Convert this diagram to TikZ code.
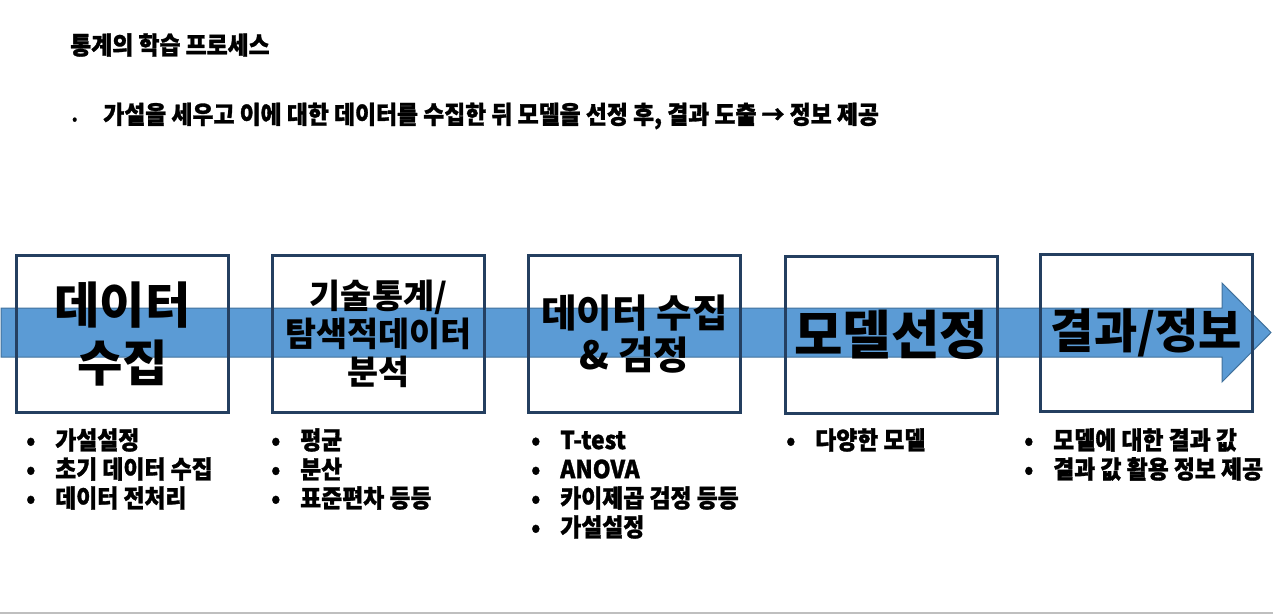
\documentclass[tikz,border=0pt]{standalone}
\usepackage{fontspec}
\setmainfont{Noto Sans CJK KR}
\newfontfamily\krc{Noto Sans CJK KR}[FakeStretch=0.92,BoldFeatures={FakeBold=1.2}]
\usepackage{tikz}
\usetikzlibrary{positioning}
\definecolor{boxline}{HTML}{243F60}
\definecolor{arrowfill}{HTML}{5B9BD5}
\definecolor{arrowline}{HTML}{41719C}
\newcommand{\bul}{\makebox[21.75pt][l]{•}}
\tikzset{
  stage/.style={draw=boxline,line width=2.25pt,minimum width=159pt,minimum height=118pt,inner sep=0pt,align=center},
  item/.style={anchor=west,inner sep=0pt,font=\krc\bfseries\fontsize{18.6}{22}\selectfont},
}

\begin{document}
\begin{tikzpicture}[x=0.75pt,y=-0.75pt]
\useasboundingbox (0,0) rectangle (1273,615);
\node[item] (title) at (70,45) {통계의 학습 프로세스};
\node[item] (summary) at (72,116) {\makebox[23.25pt][l]{\fontsize{10}{10}\selectfont •}가설을 세우고 이에 대한 데이터를 수집한 뒤 모델을 선정 후, 결과 도출 → 정보 제공};
\filldraw[fill=arrowfill,draw=arrowline,line width=0.75pt]
  (1,308)--(1222,308)--(1222,283)--(1271,332.5)--(1222,382)--(1222,357)--(1,357)--cycle;
\node[stage,font=\bfseries\fontsize{37}{43}\selectfont] (collect) at (122.5,334) {데이터\\수집};
\node[stage,font=\bfseries\fontsize{25.3}{28.5}\selectfont] (explore) at (378.5,334) {기술통계/\\탐색적데이터\\분석};
\node[stage,font=\bfseries\fontsize{29}{32}\selectfont] (test) at (634.5,334) {데이터 수집\\\& 검정};
\node[stage,font=\bfseries\fontsize{39.5}{42}\selectfont] (model) at (891,335) {모델선정};
\node[stage,font=\bfseries\fontsize{35.3}{40}\selectfont] (result) at (1146.5,333) {결과/정보};
\foreach \t [count=\i] in {가설설정,초기 데이터 수집,데이터 전처리}
 {\node[item] (c1-\i) at (26,411+29*\i) {\bul\t};}
\foreach \t [count=\i] in {평균,분산,표준편차 등등}
 {\node[item] (c2-\i) at (271,411+29*\i) {\bul\t};}
\foreach \t [count=\i] in {T-test,ANOVA,카이제곱 검정 등등,가설설정}
 {\node[item] (c3-\i) at (531,411+29*\i) {\bul\t};}
\foreach \t [count=\i] in {다양한 모델}
 {\node[item] (c4-\i) at (786,411+29*\i) {\bul\t};}
\foreach \t [count=\i] in {모델에 대한 결과 값,결과 값 활용 정보 제공}
 {\node[item] (c5-\i) at (1024,411+29*\i) {\bul\t};}
\draw[black!25,line width=1.5pt] (0,613)--(1273,613);
\end{tikzpicture}
\end{document}
